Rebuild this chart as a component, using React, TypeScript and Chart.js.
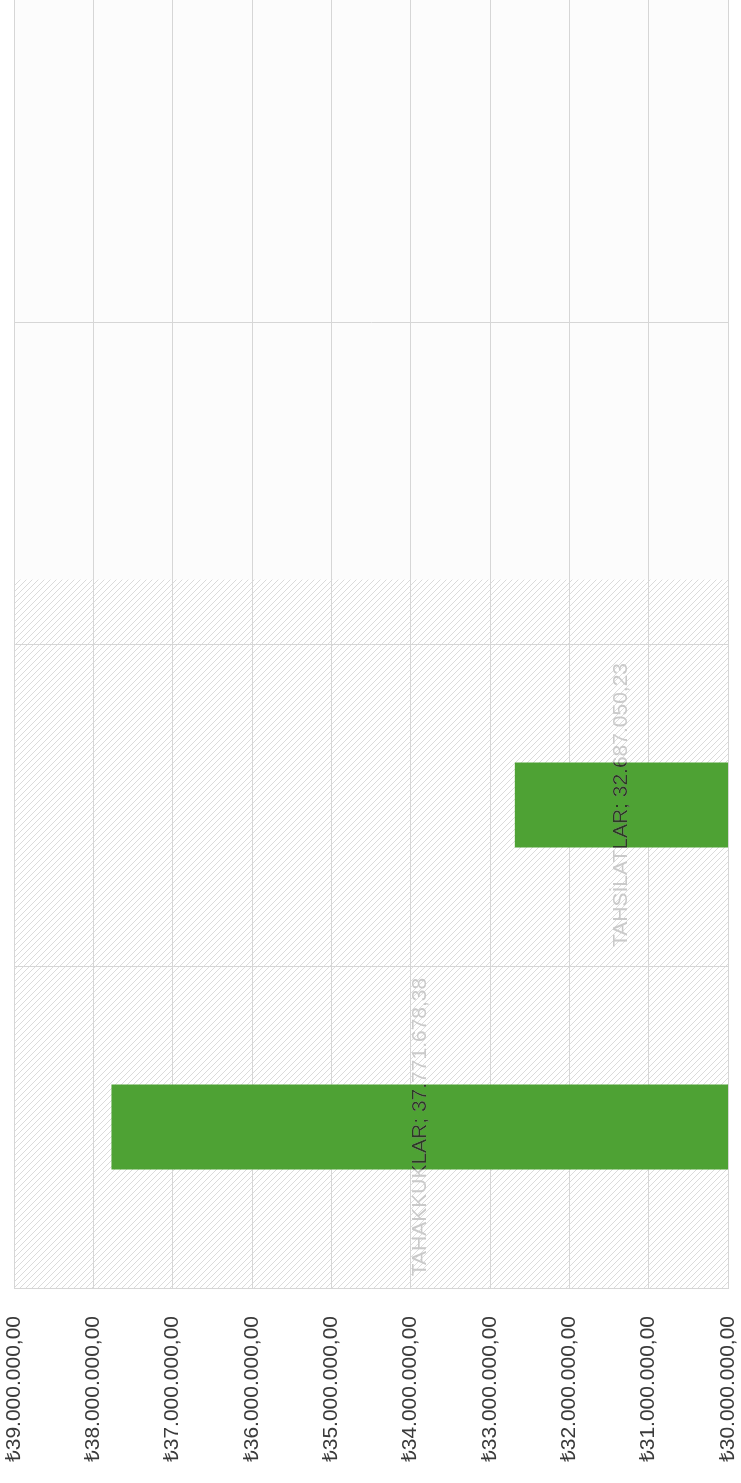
import React, { useEffect, useRef } from "react";
import { Chart, registerables } from "chart.js";

Chart.register(...registerables);

const categories = ["", "", "TAHSİLATLAR", "TAHAKKUKLAR"];
const values: (number | null)[] = [null, null, 32687050.23, 37771678.38];
const axisMin = 30000000;
const axisMax = 39000000;
const axisStep = 1000000;
const barColor = "#4ea234";
const gridColor = "#d6d6d6";

function fmtTR(v: number): string {
  const [i, d] = v.toFixed(2).split(".");
  return i.replace(/\B(?=(\d{3})+(?!\d))/g, ".") + "," + d;
}

const hatchPlugin = {
  id: "hatchBg",
  beforeDraw(chart: any) {
    const { ctx, chartArea } = chart;
    const { left, right, top, bottom } = chartArea;
    const pc = document.createElement("canvas");
    pc.width = 6;
    pc.height = 6;
    const p = pc.getContext("2d")!;
    p.strokeStyle = "rgba(175,175,175,0.45)";
    p.lineWidth = 1;
    p.beginPath();
    p.moveTo(-1, 7);
    p.lineTo(7, -1);
    p.moveTo(-4, 4);
    p.lineTo(4, -4);
    p.moveTo(2, 10);
    p.lineTo(10, 2);
    p.stroke();
    const pattern = ctx.createPattern(pc, "repeat");
    const startY = top + (bottom - top) * 0.45;
    ctx.save();
    ctx.fillStyle = "#fcfcfc";
    ctx.fillRect(left, top, right - left, startY - top);
    ctx.fillStyle = pattern;
    ctx.fillRect(left, startY, right - left, bottom - startY);
    ctx.restore();
  },
};

const labelPlugin = {
  id: "barValueLabels",
  afterDraw(chart: any) {
    const ctx = chart.ctx;
    const xs = chart.scales.x;
    const ys = chart.scales.y;
    const meta = chart.getDatasetMeta(0);
    values.forEach((v, i) => {
      if (v == null) return;
      const text = categories[i] + "; " + fmtTR(v);
      const xEnd = xs.getPixelForValue(v);
      const xBase = xs.getPixelForValue(axisMin);
      const cy = ys.getPixelForValue(i);
      const el = meta.data[i] as any;
      const h = el && el.height ? el.height : 85;
      const cx = (xEnd + xBase) / 2;
      const draw = (color: string) => {
        ctx.save();
        ctx.translate(cx, cy);
        ctx.rotate(-Math.PI / 2);
        ctx.font = "21px 'Liberation Sans', Arial, sans-serif";
        ctx.textAlign = "center";
        ctx.textBaseline = "middle";
        ctx.fillStyle = color;
        ctx.fillText(text, 0, 0);
        ctx.restore();
      };
      draw("#cacaca");
      ctx.save();
      ctx.beginPath();
      ctx.rect(Math.min(xEnd, xBase), cy - h / 2, Math.abs(xEnd - xBase), h);
      ctx.clip();
      draw("#2c3a24");
      ctx.restore();
    });
  },
};

export default function App() {
  const ref = useRef<HTMLCanvasElement>(null);
  useEffect(() => {
    document.body.style.margin = "0";
    const chart = new Chart(ref.current!, {
      type: "bar",
      data: {
        labels: categories,
        datasets: [
          {
            data: values,
            backgroundColor: barColor,
            borderWidth: 0,
            categoryPercentage: 1,
            barPercentage: 0.264,
          },
        ],
      },
      options: {
        indexAxis: "y",
        responsive: false,
        animation: false,
        layout: { padding: { left: 14, right: 13, top: 0, bottom: 0 } },
        plugins: {
          legend: { display: false },
          tooltip: { enabled: false },
        },
        scales: {
          x: {
            type: "linear",
            reverse: true,
            min: axisMin,
            max: axisMax,
            afterFit: (s: any) => {
              s.paddingLeft = 0;
              s.paddingRight = 0;
              s.height = 195;
            },
            ticks: {
              stepSize: axisStep,
              autoSkip: false,
              minRotation: 90,
              maxRotation: 90,
              padding: 28,
              color: "#3a3a3a",
              font: { family: "'Liberation Sans', Arial, sans-serif", size: 21 },
              callback: (v: any) => "₺" + fmtTR(Number(v)),
            },
            grid: { color: gridColor, drawTicks: false, lineWidth: 1 },
            border: { color: gridColor },
          },
          y: {
            type: "category",
            afterFit: (s: any) => {
              s.width = 0;
            },
            ticks: { display: false },
            grid: {
              color: (c: any) => (c.index === 0 ? "rgba(0,0,0,0)" : gridColor),
              drawTicks: false,
              offset: true,
              lineWidth: 1,
            },
            border: { color: gridColor },
          },
        },
      } as any,
      plugins: [hatchPlugin, labelPlugin],
    });
    return () => chart.destroy();
  }, []);
  return (
    <div style={{ position: "fixed", left: 0, top: 0, width: 741, height: 1483 }}>
      <canvas ref={ref} width={741} height={1483} />
    </div>
  );
}
